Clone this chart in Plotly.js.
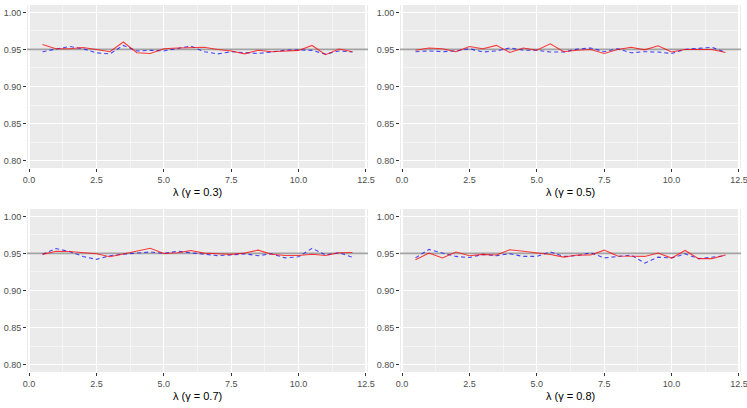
<!DOCTYPE html>
<html>
<head>
<meta charset="utf-8">
<script src="https://cdn.plot.ly/plotly-3.0.1.min.js"></script>
<style>html,body{margin:0;padding:0;background:#fff}#chart{width:747px;height:408px}</style>
</head>
<body>
<div id="chart"></div>
<script>
const lambda = [0.5,1,1.5,2,2.5,3,3.5,4,4.5,5,5.5,6,6.5,7,7.5,8,8.5,9,9.5,10,10.5,11,11.5,12];
const gammas = ["0.3","0.5","0.7","0.8"];
const red_g03 = [0.9567,0.951,0.951,0.9527,0.950,0.947,0.960,0.9455,0.9446,0.951,0.952,0.952,0.953,0.950,0.948,0.944,0.949,0.947,0.948,0.9487,0.9554,0.943,0.9505,0.947];
const blue_g03 = [0.947,0.951,0.954,0.951,0.9455,0.944,0.9555,0.948,0.9487,0.948,0.951,0.9545,0.947,0.944,0.947,0.9455,0.9446,0.9465,0.949,0.9495,0.9487,0.9437,0.948,0.9465];
const red_g05 = [0.949,0.952,0.951,0.947,0.954,0.951,0.9555,0.946,0.952,0.949,0.9576,0.947,0.949,0.950,0.9446,0.950,0.953,0.9495,0.955,0.9465,0.950,0.950,0.950,0.946];
const blue_g05 = [0.947,0.948,0.947,0.948,0.951,0.9465,0.948,0.952,0.949,0.949,0.9465,0.9465,0.9505,0.952,0.947,0.951,0.9455,0.947,0.9465,0.9446,0.950,0.952,0.953,0.946];
const red_g07 = [0.9488,0.953,0.9527,0.951,0.9495,0.9455,0.9495,0.954,0.957,0.950,0.951,0.954,0.9505,0.9495,0.9487,0.9505,0.9545,0.949,0.9473,0.9473,0.949,0.9473,0.951,0.9513];
const blue_g07 = [0.9488,0.9567,0.9527,0.946,0.942,0.947,0.949,0.951,0.952,0.950,0.953,0.951,0.9495,0.947,0.948,0.9495,0.947,0.9495,0.944,0.9455,0.957,0.948,0.951,0.945];
const red_g08 = [0.9415,0.9505,0.944,0.952,0.947,0.9487,0.948,0.955,0.953,0.9505,0.9487,0.945,0.9478,0.948,0.9545,0.9465,0.946,0.946,0.9505,0.9438,0.954,0.943,0.943,0.9478];
const blue_g08 = [0.944,0.9555,0.9505,0.946,0.9445,0.9487,0.947,0.9495,0.946,0.946,0.952,0.946,0.947,0.951,0.944,0.946,0.9478,0.937,0.945,0.9438,0.9495,0.943,0.945,0.947];
const reference = 0.95;
const xTickVals = [0,2.5,5,7.5,10,12.5];
const yTickVals = [0.80,0.85,0.90,0.95,1.00];

const reds = [red_g03, red_g05, red_g07, red_g08];
const blues = [blue_g03, blue_g05, blue_g07, blue_g08];

const xDomains = [[27/747, 368/747],[400/747, 741/747]];
const yDomains = [[1-168/408, 1-5/408],[1-372/408, 1-209/408]];

const traces = [];
const layout = {
  width: 747, height: 408,
  margin: {l:0, r:0, t:0, b:0},
  paper_bgcolor: '#FFFFFF',
  plot_bgcolor: '#EBEBEB',
  showlegend: false,
  font: {family: 'Liberation Sans, Arial, sans-serif', size: 9, color: '#4D4D4D'},
  annotations: []
};

for (let i = 0; i < 4; i++) {
  const n = i + 1;
  const xa = 'x' + (n === 1 ? '' : n);
  const ya = 'y' + (n === 1 ? '' : n);
  traces.push({x: [-1, 14], y: [reference, reference], xaxis: xa, yaxis: ya, mode: 'lines',
    line: {color: '#A3A3A3', width: 1.8}, hoverinfo: 'skip'});
  traces.push({x: lambda, y: blues[i], xaxis: xa, yaxis: ya, mode: 'lines',
    line: {color: 'rgba(0,0,255,0.7)', width: 1.1, dash: '4px,3px'}});
  traces.push({x: lambda, y: reds[i], xaxis: xa, yaxis: ya, mode: 'lines',
    line: {color: 'rgba(255,0,0,0.75)', width: 1.1}});

  const col = i % 2, row = Math.floor(i / 2);
  const xname = 'xaxis' + (n === 1 ? '' : n);
  const yname = 'yaxis' + (n === 1 ? '' : n);
  layout[xname] = {
    domain: xDomains[col], anchor: ya, range: [-0.075, 12.575],
    tickmode: 'array', tickvals: xTickVals, ticktext: xTickVals.map(v => v.toFixed(1)),
    ticks: 'outside', ticklen: 3, tickwidth: 1, tickcolor: '#333333',
    ticklabeloverflow: 'allow',
    showgrid: true, gridcolor: '#FFFFFF', gridwidth: 1.1, zeroline: false, showline: false,
    tickfont: {size: 9, color: '#4D4D4D'},
    minor: {tickmode: 'array', tickvals: [1.25,3.75,6.25,8.75,11.25], showgrid: true, gridcolor: '#FFFFFF', gridwidth: 0.5, ticks: ''}
  };
  layout[yname] = {
    domain: yDomains[row], anchor: xa, range: [0.79, 1.01],
    tickmode: 'array', tickvals: yTickVals, ticktext: yTickVals.map(v => v.toFixed(2)),
    ticks: 'outside', ticklen: 3, tickwidth: 1, tickcolor: '#333333',
    ticklabeloverflow: 'allow',
    showgrid: true, gridcolor: '#FFFFFF', gridwidth: 1.1, zeroline: false, showline: false,
    tickfont: {size: 9, color: '#4D4D4D'},
    minor: {tickmode: 'array', tickvals: [0.825,0.875,0.925,0.975], showgrid: true, gridcolor: '#FFFFFF', gridwidth: 0.5, ticks: ''}
  };
  layout.annotations.push({
    text: 'λ (γ = ' + gammas[i] + ')', showarrow: false,
    xref: 'paper', yref: 'paper',
    x: (xDomains[col][0] + xDomains[col][1]) / 2,
    y: 1 - (row === 0 ? 192 : 396) / 408,
    xanchor: 'center', yanchor: 'middle',
    font: {size: 11, color: '#000000', family: 'Liberation Sans, Arial, sans-serif'}
  });
}

Plotly.newPlot('chart', traces, layout, {displayModeBar: false, staticPlot: true});
</script>
</body>
</html>
